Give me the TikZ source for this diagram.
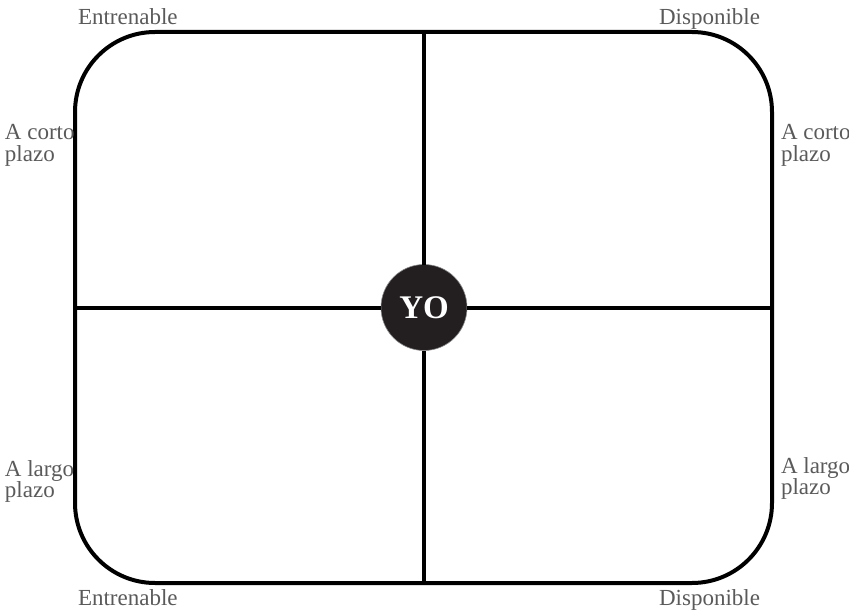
\documentclass[tikz,border=0pt]{standalone}
\usepackage{fontspec}
\setmainfont{Liberation Serif}
\usetikzlibrary{positioning}
\definecolor{ink}{HTML}{000000}
\definecolor{label}{HTML}{5A5A5A}
\definecolor{hub}{HTML}{231F20}
\definecolor{hubedge}{HTML}{8A8A8A}
\tikzset{
  every node/.style={inner sep=0pt, outer sep=0pt},
  frame/.style={draw=ink, line width=4pt, rounded corners=80pt,
                minimum width=697pt, minimum height=551pt},
  axis/.style={draw=ink, line width=4pt},
  hubnode/.style={circle, fill=hub, draw=hubedge, line width=0.6pt, minimum size=86pt,
                  text=white, font=\fontsize{33}{33}\selectfont\bfseries},
  lab/.style={text=label, font=\fontsize{23}{21}\selectfont, align=left},
}

\begin{document}
\begin{tikzpicture}[x=1pt, y=-1pt]
\useasboundingbox (0,0) rectangle (849,615);
% ---- grid (px) ----------------------------------------------------------------
\def\xL{78} \def\xR{760} \def\xS{5} \def\xT{781}
\def\rTop{25} \def\rBot{605} \def\rC{161} \def\rLl{497} \def\rLr{494}

% ---- board --------------------------------------------------------------------
\node[frame] (board) at (423.5, 307.5) {};
\node[hubnode] (yo) at (424, 307.5) {YO};

% ---- axes ---------------------------------------------------------------------
\draw[axis] (board.north -| yo) -- (yo);
\draw[axis] (yo) -- (board.south -| yo);
\draw[axis] (board.west |- yo) -- (yo);
\draw[axis] (yo) -- (board.east |- yo);

% ---- corner labels ------------------------------------------------------------
\node[lab, anchor=base west] (tl) at (\xL, \rTop) {Entrenable};
\node[lab, anchor=base east] (tr) at (\xR, \rTop) {Disponible};
\node[lab, anchor=base west] (bl) at (\xL, \rBot) {Entrenable};
\node[lab, anchor=base east] (br) at (\xR, \rBot) {Disponible};

% ---- side labels (base = last line) -------------------------------------------
\node[lab, anchor=base west] (lc) at (\xS, \rC) {A corto\\plazo};
\node[lab, anchor=base west] (rc) at (\xT, \rC) {A corto\\plazo};
\node[lab, anchor=base west] (ll) at (\xS, \rLl) {A largo\\plazo};
\node[lab, anchor=base west] (rl) at (\xT, \rLr) {A largo\\plazo};
\end{tikzpicture}
\end{document}
